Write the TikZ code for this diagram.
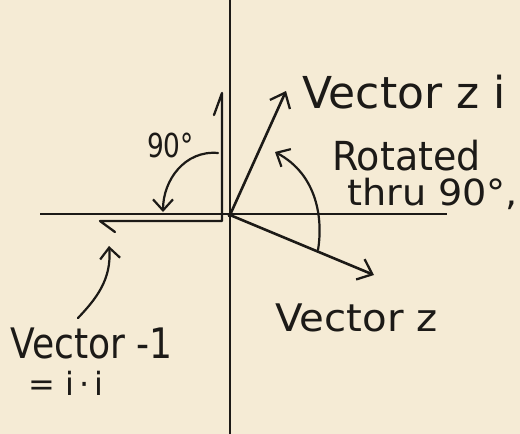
\documentclass[tikz,border=0pt]{standalone}
\usepackage{fontspec}
\setmainfont{DejaVu Sans}
\usetikzlibrary{arrows.meta}
\definecolor{paper}{HTML}{F5EBD5}
\definecolor{ink}{HTML}{1C1A17}
\begin{document}
\begin{tikzpicture}[x=1pt,y=-1pt,
  axis/.style={draw=ink, line width=2pt},
  vec/.style={draw=ink, line width=2.6pt, line cap=round,
     -{Straight Barb[length=13pt,width=22pt,line width=2.3pt]}},
  curl/.style={draw=ink, line width=2.2pt, line cap=round,
     -{Straight Barb[length=11pt,width=20pt,line width=2.2pt]}},
  hand/.style={text=ink, inner sep=0pt, anchor=base west}]
\fill[paper] (0,0) rectangle (520,434);
\useasboundingbox (0,0) rectangle (520,434);

% named points
\coordinate (top) at (230,0);
\coordinate (bot) at (230,434);
\coordinate (left) at (40,214);
\coordinate (right) at (447,214);
\coordinate (O) at (230,215);
\coordinate (zi) at (286,91);
\coordinate (z) at (374,275);
\coordinate (oneTop) at (222,93);
\coordinate (oneFlag) at (214,115);
\coordinate (corner) at (222,221);
\coordinate (mOne) at (100,221);
\coordinate (hook) at (115,232);
\coordinate (a1s) at (218,153);
\coordinate (a1e) at (163,212);
\coordinate (a2s) at (318,250);
\coordinate (a2e) at (275,152);
\coordinate (ps) at (78,318);
\coordinate (pe) at (109,246);

% axes
\draw[axis] (top) -- (bot);
\draw[axis] (left) -- (right);
\fill[ink] (O) circle (2.5pt);

% vectors
\draw[vec] (O) -- (zi);
\draw[vec] (O) -- (z);

% unit "1" and vector -1
\draw[ink, line width=2.3pt, line cap=round, line join=round]
  (oneFlag) -- (oneTop) -- (corner) -- (mOne) -- (hook);

% rotation arcs
\draw[curl] (a1s) .. controls (185,150) and (163,180) .. (a1e);
\draw[curl] (a2s) .. controls (323,220) and (318,175) .. (a2e);

% pointer to vector -1
\draw[curl] (ps) .. controls (95,300) and (112,280) .. (pe);

% labels
\node[hand, font=\fontsize{44}{48}\selectfont] (lzi) at (302,108) {Vector z i};
\node[hand, font=\fontsize{40}{44}\selectfont, xscale=0.95] (lrot) at (332,170) {Rotated};
\node[hand, font=\fontsize{36}{40}\selectfont, xscale=1.06] (lthru) at (347,205) {thru 90°,};
\node[hand, font=\fontsize{33}{36}\selectfont, xscale=0.8] (lninety) at (147,157) {90°};
\node[hand, font=\fontsize{38}{42}\selectfont, xscale=1.06] (lz) at (275,331) {Vector z};
\node[hand, font=\fontsize{42}{46}\selectfont, xscale=0.86] (lmone) at (10,358) {Vector -1};
\node[hand, font=\fontsize{32}{36}\selectfont] (lii) at (28,395) {= i\,·\,i};
\end{tikzpicture}
\end{document}
